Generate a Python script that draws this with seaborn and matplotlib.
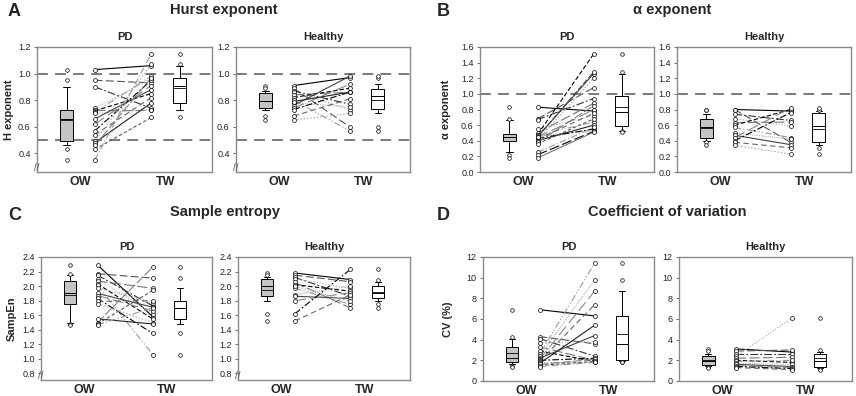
import numpy as np
import pandas as pd
import seaborn as sns
import matplotlib.pyplot as plt

# values per subject, OW and TW in the same subject order
hurst_pd_ow = [1.03, 0.95, 0.90, 0.74, 0.73, 0.72, 0.71, 0.70, 0.66, 0.62, 0.57, 0.54, 0.49, 0.48, 0.46, 0.43, 0.35]
hurst_pd_tw = [1.06, 0.93, 0.74, 0.96, 0.73, 0.85, 0.98, 0.73, 0.88, 0.91, 0.95, 0.82, 1.07, 0.78, 0.97, 0.67, 1.15]
hurst_h_ow = [0.91, 0.89, 0.87, 0.86, 0.84, 0.82, 0.80, 0.78, 0.76, 0.74, 0.73, 0.68, 0.65, 0.79]
hurst_h_tw = [0.97, 0.60, 0.77, 0.73, 0.86, 0.89, 0.57, 0.75, 0.98, 0.92, 0.86, 0.81, 0.70, 0.86]

alpha_pd_ow = [0.83, 0.68, 0.67, 0.55, 0.50, 0.48, 0.47, 0.46, 0.45, 0.44, 0.43, 0.42, 0.41, 0.40, 0.38, 0.36, 0.25, 0.22, 0.18, 0.45]
alpha_pd_tw = [0.78, 1.08, 0.94, 0.72, 0.88, 1.51, 0.64, 0.53, 1.26, 0.80, 0.55, 0.75, 1.20, 0.60, 0.85, 0.68, 0.57, 0.52, 0.51, 1.28]
alpha_h_ow = [0.80, 0.80, 0.74, 0.68, 0.63, 0.60, 0.57, 0.50, 0.47, 0.44, 0.40, 0.38, 0.34]
alpha_h_tw = [0.78, 0.38, 0.66, 0.59, 0.64, 0.80, 0.44, 0.42, 0.35, 0.82, 0.76, 0.31, 0.23]

sampen_pd_ow = [2.29, 2.17, 2.15, 2.10, 2.07, 2.03, 2.01, 1.98, 1.90, 1.87, 1.83, 1.79, 1.76, 1.55, 1.50, 1.48, 1.47]
sampen_pd_tw = [1.58, 2.11, 1.73, 1.62, 1.97, 1.55, 1.06, 1.77, 1.71, 1.66, 1.35, 1.80, 1.50, 1.48, 2.26, 1.94, 1.70]
sampen_h_ow = [2.18, 2.15, 2.12, 2.10, 2.05, 2.02, 1.97, 1.88, 1.86, 1.80, 1.62, 1.52, 2.00]
sampen_h_tw = [2.09, 2.06, 1.86, 1.97, 1.70, 1.93, 1.75, 2.00, 1.83, 1.91, 2.23, 1.88, 1.79]

cv_pd_ow = [6.9, 4.3, 4.1, 3.7, 3.3, 2.9, 2.6, 2.4, 2.2, 2.1, 2.0, 1.9, 1.8, 1.7, 1.6, 1.5, 1.4]
cv_pd_tw = [6.3, 3.6, 2.4, 3.8, 2.0, 1.9, 11.4, 9.8, 4.4, 8.7, 2.2, 7.4, 1.8, 5.4, 2.1, 1.9, 1.8]
cv_h_ow = [3.1, 2.9, 2.6, 2.4, 2.2, 2.0, 1.9, 1.7, 1.6, 1.5, 1.4, 1.3]
cv_h_tw = [2.8, 3.0, 2.6, 6.1, 2.3, 1.8, 2.0, 1.6, 1.4, 1.3, 1.2, 1.1]

sns.set_style('white')
plt.rcParams['font.family'] = ['Liberation Sans', 'DejaVu Sans']

# line styles for the subject pairs
line_colors = ['black', '#555555', '#333333', '#aaaaaa', '#777777', 'black', '#999999', '#c9a0a0',
               '#444444', '#888888', 'black', '#666666', '#b0b0b0', '#222222', '#808080', '#555555',
               '#999999', 'black', '#777777', '#444444']
line_dashes = ['', (7, 3), (7, 2, 1.5, 2), (1, 1.5), (9, 3), (4, 2), (6, 2, 1, 2, 1, 2), (1, 1),
               '', (10, 4), (6, 2, 1.5, 2), (5, 3), (1.5, 1.5), '', (8, 2), (3, 2),
               (6, 2, 1, 2), (9, 3), '', (5, 2)]

fig = plt.figure(figsize=(8.56, 3.96), dpi=100)


def add_ax(left, right, top, bottom):
    return fig.add_axes([left / 856, 1 - bottom / 396, (right - left) / 856, (bottom - top) / 396])


def draw(ax, ow, tw, ylim, yticks, fmt, refs, title, brk):
    n = len(ow)
    for r in refs:
        ax.axhline(r, color='#707070', lw=1.3, dashes=(6, 4), zorder=0)
    box_kw = dict(width=0.45, whis=(10, 90), linecolor='black', linewidth=0.7, saturation=1,
                  native_scale=True, orient='x', ax=ax,
                  flierprops=dict(marker='o', markerfacecolor='white', markeredgecolor='black',
                                  markersize=2.6, markeredgewidth=0.5),
                  showmeans=True, meanline=True,
                  meanprops=dict(color='black', lw=0.6, ls='-'))
    sns.boxplot(x=np.zeros(n), y=ow, color='#c4c4c4', **box_kw)
    sns.boxplot(x=np.full(n, 4.0), y=tw, color='white', **box_kw)

    subj = ['s%d' % i for i in range(n)]
    pairs = pd.DataFrame({'subject': subj * 2, 'pos': [1.0] * n + [3.0] * n, 'value': list(ow) + list(tw)})
    sns.lineplot(data=pairs, x='pos', y='value', hue='subject', style='subject',
                 palette=line_colors[:n], dashes=line_dashes[:n], estimator=None,
                 legend=False, lw=0.8, ax=ax)
    sns.scatterplot(data=pairs, x='pos', y='value', marker='o', s=8, facecolor='white',
                    edgecolor='black', linewidth=0.5, zorder=4, ax=ax)

    ax.set_xlim(-1.05, 5.15)
    ax.set_ylim(*ylim)
    ax.set_yticks(yticks)
    ax.set_yticklabels([fmt % v for v in yticks], fontsize=6.5, color='#222222')
    ax.set_xticks([0.5, 3.5])
    ax.set_xticklabels(['OW', 'TW'], fontsize=9, fontweight='bold')
    ax.tick_params(axis='x', length=0, pad=3)
    ax.tick_params(axis='y', length=2.5, width=0.6, pad=2, left=True, color='#555555')
    ax.set_xlabel('')
    ax.set_ylabel('')
    for s in ax.spines.values():
        s.set_color('#8a8a8a')
        s.set_linewidth(1.0)
    ax.set_title(title, fontsize=8, fontweight='bold', pad=5)
    if brk:
        ax.text(0, 0.03, '//', transform=ax.transAxes, ha='center', va='center',
                fontsize=7, color='#555555')


ax = add_ax(37, 212, 47, 172)
draw(ax, hurst_pd_ow, hurst_pd_tw, (0.26, 1.2), [0.4, 0.6, 0.8, 1.0, 1.2], '%.1f', [0.5, 1.0], 'PD', True)
ax.set_ylabel('H exponent', fontsize=8, fontweight='bold', labelpad=3)
ax = add_ax(236, 410, 47, 172)
draw(ax, hurst_h_ow, hurst_h_tw, (0.26, 1.2), [0.4, 0.6, 0.8, 1.0, 1.2], '%.1f', [0.5, 1.0], 'Healthy', True)

ax = add_ax(480, 654, 47, 172)
draw(ax, alpha_pd_ow, alpha_pd_tw, (0, 1.6), [0, 0.2, 0.4, 0.6, 0.8, 1.0, 1.2, 1.4, 1.6], '%.1f', [1.0], 'PD', False)
ax.set_ylabel('α exponent', fontsize=8, fontweight='bold', labelpad=7)
ax = add_ax(677, 851, 47, 172)
draw(ax, alpha_h_ow, alpha_h_tw, (0, 1.6), [0, 0.2, 0.4, 0.6, 0.8, 1.0, 1.2, 1.4, 1.6], '%.1f', [1.0], 'Healthy', False)

ax = add_ax(41, 212, 257, 380)
draw(ax, sampen_pd_ow, sampen_pd_tw, (0.71, 2.4), [0.8, 1.0, 1.2, 1.4, 1.6, 1.8, 2.0, 2.2, 2.4], '%.1f', [], 'PD', True)
ax.set_ylabel('SampEn', fontsize=8, fontweight='bold', labelpad=4)
ax = add_ax(238, 410, 257, 380)
draw(ax, sampen_h_ow, sampen_h_tw, (0.71, 2.4), [0.8, 1.0, 1.2, 1.4, 1.6, 1.8, 2.0, 2.2, 2.4], '%.1f', [], 'Healthy', True)

ax = add_ax(483, 654, 257, 381)
draw(ax, cv_pd_ow, cv_pd_tw, (0, 12), [0, 2, 4, 6, 8, 10, 12], '%d', [], 'PD', False)
ax.set_ylabel('CV (%)', fontsize=8, fontweight='bold', labelpad=10)
ax = add_ax(679, 852, 257, 381)
draw(ax, cv_h_ow, cv_h_tw, (0, 12), [0, 2, 4, 6, 8, 10, 12], '%d', [], 'Healthy', False)

# panel letters and headings
for x, y, s in [(8, 12, 'A'), (437, 12, 'B'), (8, 215, 'C'), (437, 215, 'D')]:
    fig.text(x / 856, 1 - y / 396, s, fontsize=13, fontweight='bold', va='center')
for x, y, s in [(224, 10, 'Hurst exponent'), (672, 10, 'α exponent'),
                (225, 212, 'Sample entropy'), (667, 212, 'Coefficient of variation')]:
    fig.text(x / 856, 1 - y / 396, s, fontsize=10.5, fontweight='bold', ha='center', va='center')

fig.savefig('out.png', dpi=100)
